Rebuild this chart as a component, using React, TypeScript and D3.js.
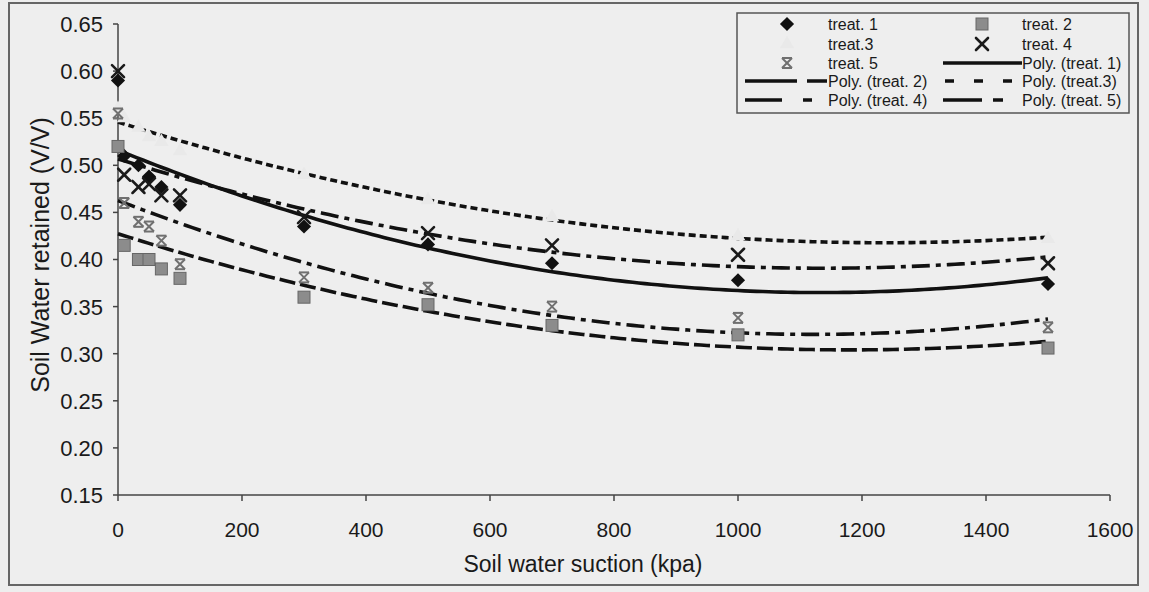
import React from 'react'
import * as d3 from 'd3'

// suction values (kpa) shared by all treatments
const suction = [0, 10, 33, 50, 70, 100, 300, 500, 700, 1000, 1500]
const treat1 = [0.59, 0.51, 0.5, 0.488, 0.477, 0.458, 0.435, 0.416, 0.396, 0.378, 0.374]
const treat2 = [0.52, 0.415, 0.4, 0.4, 0.39, 0.38, 0.36, 0.352, 0.33, 0.32, 0.306]
const treat3 = [0.56, 0.55, 0.54, 0.53, 0.525, 0.515, 0.49, 0.463, 0.445, 0.425, 0.422]
const treat4 = [0.6, 0.49, 0.477, 0.48, 0.468, 0.468, 0.445, 0.428, 0.415, 0.405, 0.396]
const treat5 = [0.555, 0.46, 0.44, 0.435, 0.42, 0.395, 0.381, 0.37, 0.35, 0.338, 0.328]

const seriesNames = ['treat. 1', 'treat. 2', 'treat.3', 'treat. 4', 'treat. 5']
const polyNames = ['Poly. (treat. 1)', 'Poly. (treat. 2)', 'Poly. (treat.3)', 'Poly. (treat. 4)', 'Poly. (treat. 5)']
const yTicks = [0.15, 0.2, 0.25, 0.3, 0.35, 0.4, 0.45, 0.5, 0.55, 0.6, 0.65]
const xTicks = [0, 200, 400, 600, 800, 1000, 1200, 1400, 1600]

const W = 1149
const H = 592
const FONT = 'Liberation Sans, Arial, sans-serif'

const x = d3.scaleLinear().domain([0, 1600]).range([118, 1110])
const y = d3.scaleLinear().domain([0.15, 0.65]).range([495, 24])

// Excel style order-2 polynomial trendline (least squares)
function polyFit(xs: number[], ys: number[]) {
  const u = xs.map((v) => v / 1000)
  const S = [0, 0, 0, 0, 0]
  const T = [0, 0, 0]
  u.forEach((v, i) => {
    for (let k = 0; k < 5; k++) S[k] += Math.pow(v, k)
    for (let k = 0; k < 3; k++) T[k] += ys[i] * Math.pow(v, k)
  })
  const A = [
    [S[0], S[1], S[2]],
    [S[1], S[2], S[3]],
    [S[2], S[3], S[4]],
  ]
  const det = (m: number[][]) =>
    m[0][0] * (m[1][1] * m[2][2] - m[1][2] * m[2][1]) -
    m[0][1] * (m[1][0] * m[2][2] - m[1][2] * m[2][0]) +
    m[0][2] * (m[1][0] * m[2][1] - m[1][1] * m[2][0])
  const D = det(A)
  const c = [0, 1, 2].map((j) => det(A.map((row, r) => row.map((v, k) => (k === j ? T[r] : v)))) / D)
  return (s: number) => c[0] + c[1] * (s / 1000) + c[2] * (s / 1000) * (s / 1000)
}

const series = [treat1, treat2, treat3, treat4, treat5]
const dashes = ['none', '16 5', '7 4', '18 6 5 6', '18 6 5 6']

const Marker = ({kind, cx, cy}: {kind: number; cx: number; cy: number}) => {
  if (kind === 0)
    return (
      <path d={d3.symbol(d3.symbolSquare, 100)() || ''} transform={`translate(${cx},${cy}) rotate(45)`} fill="#111" />
    )
  if (kind === 1)
    return <rect x={cx - 6} y={cy - 6} width={12} height={12} fill="#8c8c8c" stroke="#666" strokeWidth={1} />
  if (kind === 2)
    // very pale marker: almost lost on the grey scan
    return <path d={d3.symbol(d3.symbolTriangle, 90)() || ''} transform={`translate(${cx},${cy})`} fill="#e9e9e9" />
  if (kind === 3)
    return (
      <g stroke="#1a1a1a" strokeWidth={2.6} strokeLinecap="round">
        <line x1={cx - 6} y1={cy - 6} x2={cx + 6} y2={cy + 6} />
        <line x1={cx - 6} y1={cy + 6} x2={cx + 6} y2={cy - 6} />
      </g>
    )
  return (
    <g stroke="#707070" strokeWidth={2}>
      <line x1={cx - 5} y1={cy - 5} x2={cx + 5} y2={cy + 5} />
      <line x1={cx - 5} y1={cy + 5} x2={cx + 5} y2={cy - 5} />
      <line x1={cx - 5} y1={cy - 5} x2={cx + 5} y2={cy - 5} />
      <line x1={cx - 5} y1={cy + 5} x2={cx + 5} y2={cy + 5} />
    </g>
  )
}

// legend rows in Excel order, two columns
const legendRows = [24, 44, 63, 81, 100]
const legendCols = [{m: 787, t: 828}, {m: 982, t: 1022}]
const legendLines = [
  {x1: 943, x2: 1022, dash: 'none'},
  {x1: 745, x2: 827, dash: '52 10'},
  {x1: 945, x2: 1013, dash: '9 20'},
  {x1: 745, x2: 812, dash: '37 21 9 40'},
  {x1: 943, x2: 1003, dash: '39 11 10 40'},
]

export default function App() {
  const fits = series.map((vals) => polyFit(suction, vals))
  const samples = d3.range(0, 1501, 10)
  const items = [
    ...seriesNames.map((name, i) => ({name, marker: i, poly: -1})),
    ...polyNames.map((name, i) => ({name, marker: -1, poly: i})),
  ]

  return (
    <svg width={W} height={H} style={{position: 'fixed', left: 0, top: 0}} fontFamily={FONT}>
      <rect x={0} y={0} width={W} height={H} fill="#eeeeee" />
      <rect x={9} y={3} width={1129} height={582} fill="none" stroke="#666" strokeWidth={2} />

      {/* axes */}
      <line x1={x(0)} x2={x(0)} y1={y(0.65)} y2={y(0.15)} stroke="#444" strokeWidth={1.5} />
      <line x1={x(0)} x2={x(1600)} y1={y(0.15)} y2={y(0.15)} stroke="#444" strokeWidth={1.5} />
      {yTicks.map((t) => (
        <g key={t}>
          <line x1={x(0) - 5} x2={x(0)} y1={y(t)} y2={y(t)} stroke="#444" strokeWidth={1.5} />
          <text x={103} y={y(t)} dy="0.36em" textAnchor="end" fontSize={22} fill="#1a1a1a">
            {d3.format('.2f')(t)}
          </text>
        </g>
      ))}
      {xTicks.map((t) => (
        <g key={t}>
          <line x1={x(t)} x2={x(t)} y1={y(0.15)} y2={y(0.15) + 6} stroke="#444" strokeWidth={1.5} />
          <text x={x(t)} y={537} textAnchor="middle" fontSize={21} fill="#1a1a1a">
            {t}
          </text>
        </g>
      ))}
      <text x={583} y={572} textAnchor="middle" fontSize={23} fill="#1a1a1a">
        Soil water suction (kpa)
      </text>
      <text transform="translate(49,255) rotate(-90)" textAnchor="middle" fontSize={25} fill="#1a1a1a">
        Soil Water retained (V/V)
      </text>

      {/* trendlines */}
      {fits.map((f, i) => (
        <path
          key={i}
          d={d3.line<number>().x((s) => x(s)).y((s) => y(f(s)))(samples) || ''}
          fill="none"
          stroke="#111"
          strokeWidth={3.6}
          strokeDasharray={dashes[i]}
        />
      ))}

      {/* points */}
      {series.map((vals, i) =>
        vals.map((v, j) => <Marker key={`${i}-${j}`} kind={i} cx={x(suction[j])} cy={y(v)} />)
      )}

      {/* legend */}
      <rect x={737} y={13} width={392} height={100} fill="#eeeeee" stroke="#555" strokeWidth={1.5} />
      {items.map((it, k) => {
        const col = legendCols[k % 2]
        const cy = legendRows[Math.floor(k / 2)]
        let sym = null
        if (it.marker >= 0) sym = <Marker kind={it.marker} cx={col.m} cy={cy} />
        if (it.poly >= 0) {
          const L = legendLines[it.poly]
          sym = (
            <line x1={L.x1} x2={L.x2} y1={cy} y2={cy} stroke="#111" strokeWidth={3.6} strokeDasharray={L.dash} />
          )
        }
        return (
          <g key={it.name}>
            {sym}
            <text x={col.t} y={cy} dy="0.36em" fontSize={16} fill="#1a1a1a">
              {it.name}
            </text>
          </g>
        )
      })}
    </svg>
  )
}
